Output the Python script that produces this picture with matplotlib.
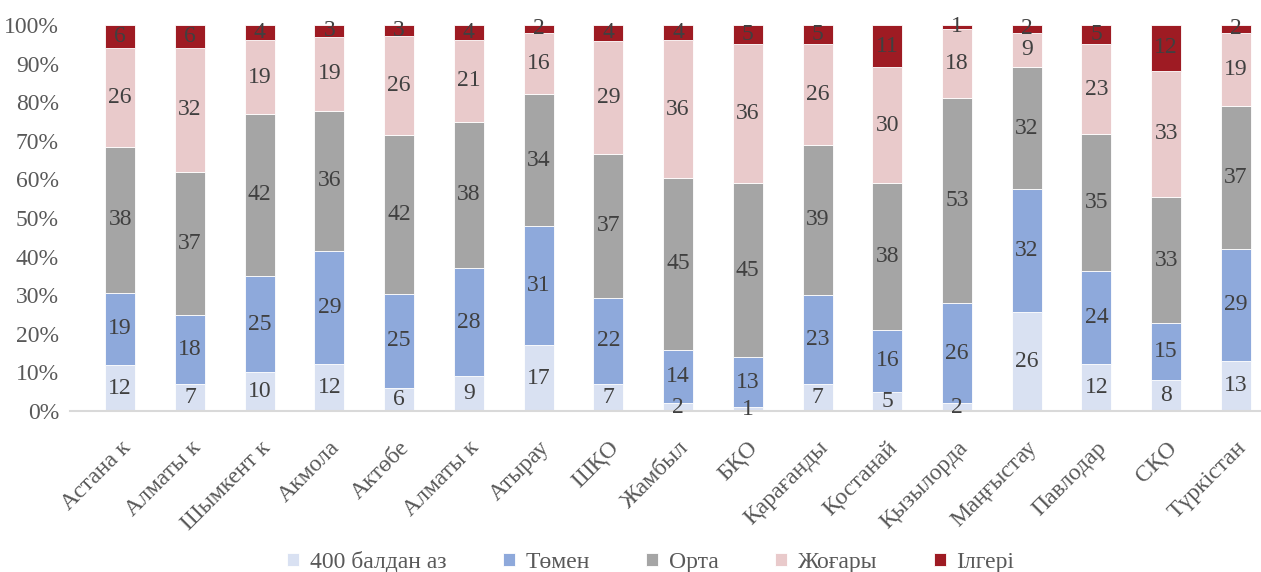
import numpy as np
import matplotlib.pyplot as plt

plt.rcParams['font.family'] = ['Liberation Serif', 'DejaVu Serif']

regions = ["Астана к", "Алматы к", "Шымкент к", "Акмола", "Актөбе", "Алматы к",
           "Атырау", "ШҚО", "Жамбыл", "БҚО", "Қарағанды", "Қостанай", "Қызылорда",
           "Маңғыстау", "Павлодар", "СҚО", "Түркістан"]

below_400 = [12, 7, 10, 12, 6, 9, 17, 7, 2, 1, 7, 5, 2, 26, 12, 8, 13]
low = [19, 18, 25, 29, 25, 28, 31, 22, 14, 13, 23, 16, 26, 32, 24, 15, 29]
middle = [38, 37, 42, 36, 42, 38, 34, 37, 45, 45, 39, 38, 53, 32, 35, 33, 37]
high = [26, 32, 19, 19, 26, 21, 16, 29, 36, 36, 26, 30, 18, 9, 23, 33, 19]
advanced = [6, 6, 4, 3, 3, 4, 2, 4, 4, 5, 5, 11, 1, 2, 5, 12, 2]

series_names = ["400 балдан аз", "Төмен", "Орта", "Жоғары", "Ілгері"]
colors = ["#D9E1F2", "#8EA9DB", "#A5A5A5", "#E9CACB", "#9E1B23"]

data = np.array([below_400, low, middle, high, advanced], dtype=float)
shares = data / data.sum(axis=0) * 100

fig = plt.figure(figsize=(12.61, 5.72), dpi=100)
ax = fig.add_axes([70 / 1261, 1 - 411 / 572, 1 - 70 / 1261, (411 - 25) / 572])

x = np.arange(len(regions))
bottom = np.zeros(len(regions))
for i in range(len(series_names)):
    ax.bar(x, shares[i], 0.43, bottom=bottom, color=colors[i], label=series_names[i],
           edgecolor="white", linewidth=0.6)
    for j in range(len(regions)):
        ax.text(x[j], bottom[j] + shares[i][j] / 2, str(int(data[i][j])),
                ha="center", va="center", fontsize=17, color="#404040")
    bottom += shares[i]

ax.set_xlim(-0.72, 16.36)
ax.set_ylim(0, 100)
ax.set_yticks(np.arange(0, 101, 10))
ax.set_yticklabels([f"{v}%" for v in range(0, 101, 10)], fontsize=17, color="#595959")
ax.set_xticks(x)
ax.set_xticklabels(regions, rotation=45, ha="right", rotation_mode="anchor",
                   fontsize=17, color="#595959")
ax.tick_params(axis="both", length=0)
ax.tick_params(axis="y", pad=8)
ax.tick_params(axis="x", pad=19)
for s in ["top", "right", "left"]:
    ax.spines[s].set_visible(False)
ax.spines["bottom"].set_color("#D9D9D9")
ax.spines["bottom"].set_linewidth(1.5)

leg = fig.legend(loc="center", ncol=5, bbox_to_anchor=(0.516, 0.018),
                 frameon=False, fontsize=17, handlelength=0.5, handleheight=0.5,
                 columnspacing=2.4, handletextpad=0.45, labelcolor="#595959")

fig.savefig("out.png", dpi=100)
